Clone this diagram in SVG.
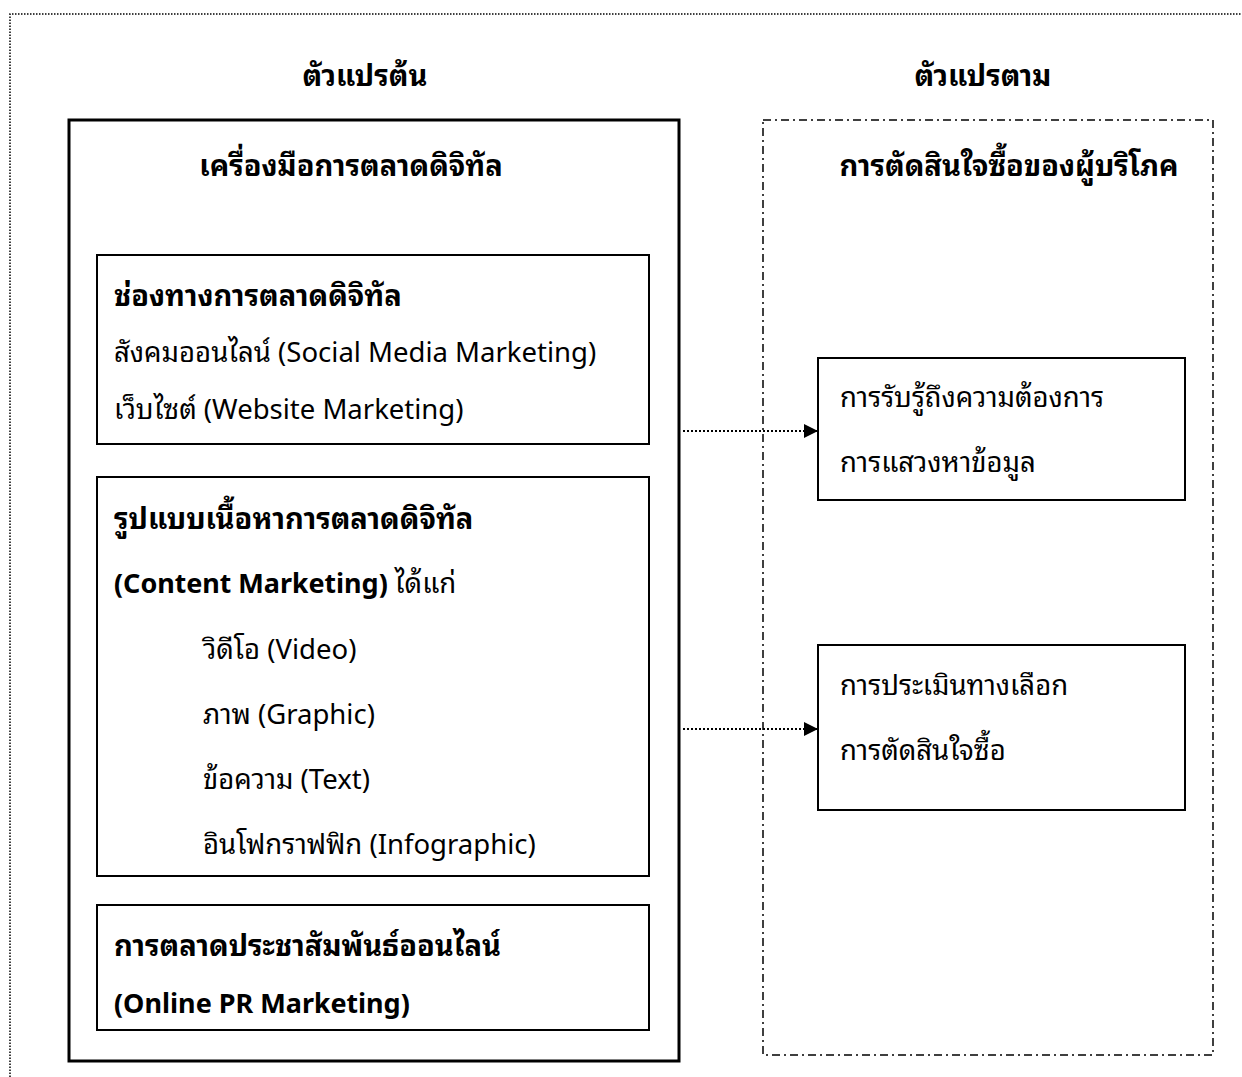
<svg xmlns="http://www.w3.org/2000/svg" width="1242" height="1077" viewBox="0 0 1242 1077">
<defs>
<style>
text{font-family:"Noto Sans Thai Looped","Noto Sans Thai","Noto Sans","DejaVu Sans",sans-serif;fill:#000;font-size:27.5px}
.b{font-weight:bold;font-size:29px}
tspan.b{font-size:27px}
.lat{font-size:27px}
.box{fill:none;stroke:#000;stroke-width:2}
.conn{stroke:#000;stroke-width:2;stroke-dasharray:2 2;fill:none}
</style>
<marker id="ah" markerWidth="14" markerHeight="14" refX="13" refY="7" orient="auto" markerUnits="userSpaceOnUse">
<path d="M0,0 L14,7 L0,14 Z" fill="#000"/>
</marker>
</defs>
<rect width="1242" height="1077" fill="#fff"/>
<path d="M10,1077 V14 H1242" fill="none" stroke="#000" stroke-width="1.5" stroke-dasharray="1.5 1.5"/>
<text class="b" x="365" y="86" text-anchor="middle">ตัวแปรต้น</text>
<text class="b" x="983" y="86" text-anchor="middle">ตัวแปรตาม</text>
<g id="independent">
<rect x="69" y="120" width="610" height="941" fill="none" stroke="#000" stroke-width="3"/>
<text class="b" x="351" y="176" text-anchor="middle">เครื่องมือการตลาดดิจิทัล</text>
</g>
<g id="channels">
<rect class="box" x="97" y="255" width="552" height="189"/>
<text class="b" x="114" y="306">ช่องทางการตลาดดิจิทัล</text>
<text x="114" y="362">สังคมออนไลน์ (Social Media Marketing)</text>
<text x="114" y="419">เว็บไซต์ (Website Marketing)</text>
</g>
<g id="content">
<rect class="box" x="97" y="477" width="552" height="399"/>
<text class="b" x="114" y="529">รูปแบบเนื้อหาการตลาดดิจิทัล</text>
<text x="114" y="593"><tspan class="b">(Content Marketing)</tspan> ได้แก่</text>
<text x="203" y="659">วิดีโอ (Video)</text>
<text x="203" y="724">ภาพ (Graphic)</text>
<text x="203" y="789">ข้อความ (Text)</text>
<text x="203" y="854">อินโฟกราฟฟิก (Infographic)</text>
</g>
<g id="pr">
<rect class="box" x="97" y="905" width="552" height="125"/>
<text class="b" x="114" y="956">การตลาดประชาสัมพันธ์ออนไลน์</text>
<text class="b lat" x="114" y="1013">(Online PR Marketing)</text>
</g>
<g id="dependent">
<rect x="763" y="120" width="450" height="935" fill="none" stroke="#000" stroke-width="1.5" stroke-dasharray="8 4 2 4"/>
<text class="b" x="1009" y="176" text-anchor="middle">การตัดสินใจซื้อของผู้บริโภค</text>
</g>
<g id="awareness">
<rect class="box" x="818" y="358" width="367" height="142"/>
<text x="840" y="407">การรับรู้ถึงความต้องการ</text>
<text x="840" y="472">การแสวงหาข้อมูล</text>
</g>
<g id="evaluation">
<rect class="box" x="818" y="645" width="367" height="165"/>
<text x="840" y="695">การประเมินทางเลือก</text>
<text x="840" y="760">การตัดสินใจซื้อ</text>
</g>
<g id="connectors">
<line class="conn" x1="683" y1="431" x2="817" y2="431" marker-end="url(#ah)"/>
<line class="conn" x1="683" y1="729" x2="817" y2="729" marker-end="url(#ah)"/>
</g>
</svg>
